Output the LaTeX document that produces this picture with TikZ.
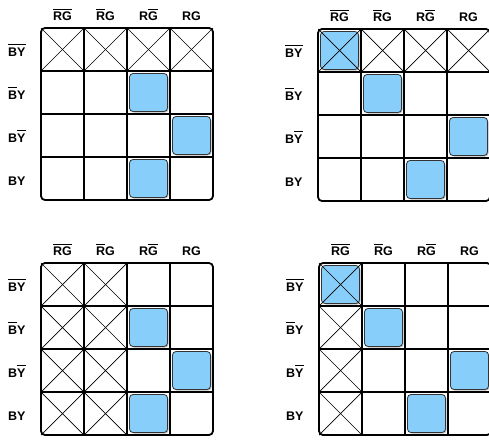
\documentclass[tikz,border=0pt]{standalone}
\usepackage{fontspec}
\setmainfont{Liberation Sans}
\usetikzlibrary{positioning}
\definecolor{cellblue}{HTML}{87CEFA}

% overlined label text
\newcommand{\ovl}[1]{\leavevmode\setbox0\hbox{#1}\rlap{\raisebox{\dimexpr\ht0+2pt\relax}{\rule{\wd0}{1pt}}}\box0}

% one 4x4 map: #1 name, #2/#3 top left corner, #4 crossed cells, #5 blue cells (row/col)
\newcommand{\kmap}[5]{%
  \begin{scope}[shift={(#2,#3)}]
    \foreach \r/\c in {#5} {
      \draw[shade] ({43*(\c-1)+3.5},{43*(\r-1)+3.5}) rectangle ({43*\c-1.5},{43*\r-1.5});
      \draw[hit] ({43*(\c-1)+2.5},{43*(\r-1)+2.5}) rectangle ({43*\c-2.5},{43*\r-2.5});
    }
    \foreach \r/\c in {#4} {
      \draw[cross] ({43*(\c-1)},{43*(\r-1)}) -- ({43*\c},{43*\r});
      \draw[cross] ({43*\c},{43*(\r-1)}) -- ({43*(\c-1)},{43*\r});
    }
    \foreach \i in {1,2,3} {
      \draw[gridline] ({43*\i},0) -- ({43*\i},172);
      \draw[gridline] (0,{43*\i}) -- (172,{43*\i});
    }
    \draw[frame] (0,0) rectangle (172,172);
    \foreach \t [count=\i] in {\ovl{RG}, \ovl{R}G, R\ovl{G}, RG}
      \node[lab, anchor=base] (#1-c\i) at ({43*\i-21.5},-7.5) {\t};
    \foreach \t [count=\i] in {\ovl{BY}, \ovl{B}Y, B\ovl{Y}, BY}
      \node[lab, anchor=base west] (#1-r\i) at (-33,{43*\i-15}) {\t};
  \end{scope}}

\begin{document}
\begin{tikzpicture}[x=1pt, y=-1pt,
    lab/.style={font=\fontsize{12.5}{14}\selectfont\bfseries, inner sep=0pt},
    gridline/.style={line width=1.4pt},
    frame/.style={line width=1.8pt, rounded corners=4pt},
    cross/.style={line width=0.7pt},
    shade/.style={fill=black!25, draw=none, rounded corners=3.5pt},
    hit/.style={fill=cellblue, draw=black!80, line width=0.8pt, rounded corners=3.5pt}
]
\useasboundingbox (0,0) rectangle (489,439);

\kmap{ma}{41}{28}{1/1,1/2,1/3,1/4}{2/3,3/4,4/3}
\kmap{mb}{318}{29}{1/1,1/2,1/3,1/4}{1/1,2/2,3/4,4/3}
\kmap{mc}{41}{263}{1/1,2/1,3/1,4/1,1/2,2/2,3/2,4/2}{2/3,3/4,4/3}
\kmap{md}{319}{263}{1/1,2/1,3/1,4/1}{1/1,2/2,3/4,4/3}
\end{tikzpicture}
\end{document}
